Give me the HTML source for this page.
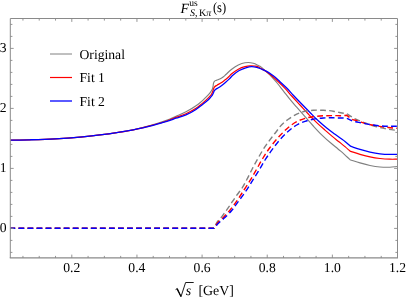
<!DOCTYPE html>
<html><head><meta charset="utf-8"><title>F S,Kpi(s)</title>
<style>
html,body{margin:0;padding:0;background:#fff;}
body{width:407px;height:300px;overflow:hidden;font-family:"Liberation Serif",serif;}
svg{display:block;will-change:transform;}
text{font-family:"Liberation Serif",serif;fill:#000;text-rendering:geometricPrecision;}
.it{font-style:italic;}
</style></head><body>
<svg width="407" height="300" viewBox="0 0 407 300">
<rect width="407" height="300" fill="#fff"/>
<defs><clipPath id="c"><rect x="10.3" y="18.5" width="387.2" height="239.5"/></clipPath></defs>

<g clip-path="url(#c)" fill="none" stroke-linejoin="round">
<path d="M10.30,140.20 C16.87,140.07 23.43,139.98 30.00,139.80 C38.34,139.57 46.67,139.35 55.00,138.90 C63.34,138.45 71.68,137.87 80.00,137.10 C86.68,136.48 93.35,135.73 100.00,134.90 C105.58,134.20 111.15,133.45 116.70,132.60 C122.25,131.75 127.82,130.96 133.30,129.80 C138.92,128.61 144.48,127.09 150.00,125.50 C156.73,123.56 163.51,121.64 170.00,119.00 C172.02,118.18 174.01,117.28 176.00,116.40 C179.35,114.91 182.76,113.52 186.00,111.80 C189.44,109.97 192.81,107.95 196.00,105.70 C197.36,104.74 198.71,103.75 200.00,102.70 C201.03,101.87 202.02,100.99 203.00,100.10 C204.03,99.16 205.03,98.19 206.00,97.20 C207.39,95.79 208.81,94.38 210.00,92.80 C210.84,91.69 211.77,90.57 212.30,89.30 C212.72,88.30 212.89,87.18 213.10,86.10 C213.28,85.18 213.22,84.19 213.50,83.30 C213.71,82.61 213.93,81.80 214.40,81.30 C214.90,80.77 215.79,80.62 216.50,80.30 C217.59,79.80 218.73,79.43 219.80,78.90 C220.94,78.34 222.08,77.74 223.10,77.00 C224.11,76.27 224.97,75.34 225.90,74.50 C227.85,72.75 229.63,70.79 231.70,69.20 C233.76,67.62 235.95,66.09 238.30,65.00 C240.41,64.02 242.69,63.18 245.00,62.80 C246.08,62.62 247.20,62.49 248.30,62.50 C249.98,62.51 251.69,62.84 253.30,63.30 C254.92,63.77 256.46,64.57 258.00,65.30 C258.67,65.62 259.36,65.93 260.00,66.30 C261.88,67.38 263.36,69.07 265.00,70.50 C266.69,71.97 268.40,73.43 270.00,75.00 C272.39,77.35 274.54,79.94 276.70,82.50 C278.98,85.20 281.11,88.02 283.30,90.80 C285.55,93.66 287.70,96.59 290.00,99.40 C292.17,102.05 294.46,104.61 296.70,107.20 C299.45,110.38 302.22,113.55 305.00,116.70 C307.75,119.81 310.48,122.95 313.30,126.00 C316.05,128.98 318.80,131.97 321.70,134.80 C324.91,137.93 328.26,140.92 331.70,143.80 C333.12,144.99 334.56,146.14 336.00,147.30 C337.56,148.57 339.17,149.79 340.70,151.10 C342.27,152.45 343.78,153.89 345.30,155.30 C346.88,156.76 348.43,158.23 350.00,159.70 C353.33,160.77 356.64,161.93 360.00,162.90 C363.31,163.86 366.63,164.81 370.00,165.50 C373.30,166.17 376.65,166.72 380.00,167.00 C383.32,167.28 386.67,167.35 390.00,167.20 C392.50,167.09 395.00,166.73 397.50,166.50" stroke="#808080" stroke-width="1.15"/>
<path d="M10.30,140.20 C16.87,140.07 23.43,139.98 30.00,139.80 C38.34,139.57 46.67,139.35 55.00,138.90 C63.34,138.45 71.68,137.87 80.00,137.10 C86.68,136.48 93.35,135.73 100.00,134.90 C105.58,134.20 111.15,133.45 116.70,132.60 C122.25,131.75 127.80,130.92 133.30,129.80 C138.91,128.66 144.47,127.29 150.00,125.80 C156.73,123.99 163.45,122.09 170.00,119.70 C172.01,118.97 174.00,118.16 176.00,117.40 C179.32,116.14 182.77,115.15 186.00,113.70 C189.45,112.15 192.88,110.43 196.00,108.30 C197.37,107.36 198.70,106.34 200.00,105.30 C202.07,103.66 204.06,101.90 206.00,100.10 C207.36,98.83 208.83,97.64 210.00,96.20 C210.57,95.50 211.15,94.78 211.60,94.00 C212.09,93.15 212.47,92.22 212.80,91.30 C213.08,90.52 213.27,89.70 213.50,88.90 C213.80,88.30 214.01,87.62 214.40,87.10 C215.03,86.27 216.10,85.79 217.00,85.20 C218.18,84.42 219.51,83.87 220.70,83.10 C222.02,82.25 223.26,81.26 224.50,80.30 C225.59,79.46 226.67,78.61 227.70,77.70 C229.10,76.47 230.29,75.00 231.70,73.80 C233.73,72.07 235.93,70.42 238.30,69.20 C240.40,68.12 242.70,67.29 245.00,66.70 C246.63,66.28 248.32,65.91 250.00,65.80 C251.65,65.69 253.36,65.74 255.00,66.00 C256.01,66.16 257.08,66.28 258.00,66.70 C258.71,67.02 259.33,67.58 260.00,68.00 C261.62,69.01 263.39,69.78 265.00,70.80 C267.35,72.29 269.54,74.04 271.70,75.80 C273.98,77.66 276.15,79.68 278.30,81.70 C280.59,83.84 282.85,86.02 285.00,88.30 C287.33,90.77 289.43,93.46 291.70,96.00 C294.42,99.04 297.23,102.00 300.00,105.00 C302.77,108.00 305.49,111.04 308.30,114.00 C311.06,116.91 313.81,119.83 316.70,122.60 C319.39,125.18 322.20,127.63 325.00,130.10 C328.62,133.29 332.22,136.51 336.00,139.50 C337.55,140.72 339.16,141.87 340.70,143.10 C342.26,144.34 343.79,145.60 345.30,146.90 C346.89,148.27 348.43,149.70 350.00,151.10 C353.33,152.17 356.64,153.33 360.00,154.30 C363.31,155.26 366.63,156.20 370.00,156.90 C373.30,157.59 376.65,158.12 380.00,158.50 C383.32,158.88 386.66,159.10 390.00,159.20 C392.50,159.27 395.00,159.20 397.50,159.20" stroke="#ff0000" stroke-width="1.2"/>
<path d="M10.30,140.20 C16.87,140.07 23.43,139.98 30.00,139.80 C38.34,139.57 46.67,139.35 55.00,138.90 C63.34,138.45 71.68,137.87 80.00,137.10 C86.68,136.48 93.35,135.73 100.00,134.90 C105.58,134.20 111.15,133.45 116.70,132.60 C122.25,131.75 127.79,130.86 133.30,129.80 C138.89,128.73 144.49,127.64 150.00,126.20 C153.36,125.32 156.67,124.28 160.00,123.30 C163.34,122.32 166.70,121.39 170.00,120.30 C172.01,119.63 174.00,118.89 176.00,118.20 C179.33,117.05 182.77,116.18 186.00,114.80 C189.46,113.32 192.89,111.61 196.00,109.50 C197.38,108.57 198.68,107.51 200.00,106.50 C202.02,104.96 204.09,103.47 206.00,101.80 C207.38,100.59 208.77,99.36 210.00,98.00 C210.81,97.11 211.67,96.22 212.30,95.20 C212.78,94.42 213.10,93.53 213.50,92.70 C213.73,92.07 213.84,91.35 214.20,90.80 C214.55,90.26 215.10,89.82 215.60,89.40 C216.43,88.71 217.48,88.29 218.40,87.70 C219.53,86.97 220.63,86.20 221.70,85.40 C222.97,84.45 224.19,83.43 225.40,82.40 C226.66,81.33 227.91,80.24 229.10,79.10 C230.27,77.98 231.31,76.70 232.50,75.60 C234.56,73.70 236.77,71.85 239.20,70.50 C241.26,69.35 243.53,68.45 245.80,67.80 C247.71,67.25 249.73,66.72 251.70,66.70 C253.36,66.69 255.07,67.00 256.70,67.40 C258.41,67.82 260.05,68.56 261.70,69.20 C263.38,69.86 265.10,70.47 266.70,71.30 C269.05,72.52 271.20,74.18 273.30,75.80 C275.65,77.61 277.80,79.70 280.00,81.70 C282.27,83.76 284.55,85.82 286.70,88.00 C288.99,90.31 291.08,92.82 293.30,95.20 C296.07,98.16 298.88,101.08 301.70,104.00 C304.45,106.85 307.22,109.68 310.00,112.50 C312.75,115.28 315.43,118.15 318.30,120.80 C321.01,123.30 323.82,125.70 326.70,128.00 C329.40,130.15 332.22,132.15 335.00,134.20 C336.73,135.47 338.46,136.74 340.20,138.00 C341.90,139.24 343.65,140.40 345.30,141.70 C347.10,143.12 348.77,144.70 350.50,146.20 C353.67,147.27 356.80,148.43 360.00,149.40 C363.30,150.40 366.63,151.36 370.00,152.10 C373.30,152.82 376.65,153.42 380.00,153.80 C383.31,154.18 386.66,154.34 390.00,154.40 C392.50,154.45 395.00,154.33 397.50,154.30" stroke="#0000ff" stroke-width="1.3"/>
<path d="M9.40,228.30 L214.00,228.30 C214.40,227.53 214.84,226.78 215.20,226.00 C215.53,225.28 215.76,224.51 216.10,223.80 C217.54,220.75 220.35,218.51 222.40,215.80 C224.66,212.81 226.86,209.77 229.00,206.70 C231.30,203.41 233.40,199.99 235.70,196.70 C237.87,193.59 240.38,190.71 242.40,187.50 C243.92,185.08 245.24,182.52 246.60,180.00 C248.51,176.45 250.21,172.77 252.08,169.20 C254.15,165.27 256.24,161.35 258.45,157.50 C260.55,153.85 262.66,150.20 265.00,146.70 C267.11,143.55 269.42,140.53 271.70,137.50 C273.60,134.98 275.61,132.53 277.50,130.00 C278.34,128.87 279.11,127.68 280.00,126.60 C282.35,123.76 285.31,121.36 288.30,119.20 C290.93,117.30 293.75,115.56 296.70,114.20 C299.35,112.98 302.16,111.95 305.00,111.30 C307.70,110.68 310.52,110.48 313.30,110.30 C316.62,110.08 319.97,110.15 323.30,110.30 C326.64,110.45 330.01,110.64 333.30,111.20 C335.15,111.52 336.96,112.04 338.80,112.40 C340.49,112.73 342.19,113.08 343.90,113.30 C344.83,113.42 345.77,113.50 346.70,113.60 C348.27,114.60 349.85,115.57 351.40,116.60 C352.34,117.22 353.22,117.94 354.20,118.50 C355.79,119.41 357.60,119.89 359.30,120.60 C361.20,121.39 363.08,122.26 365.00,123.00 C368.81,124.47 372.75,125.66 376.70,126.70 C380.52,127.71 384.41,128.52 388.30,129.20 C391.35,129.73 394.43,130.07 397.50,130.50" stroke="#808080" stroke-width="1.4" stroke-dasharray="5.8 3.25"/>
<path d="M9.40,228.30 L214.00,228.30 C214.47,227.60 214.95,226.91 215.40,226.20 C215.82,225.54 216.17,224.85 216.60,224.20 C218.53,221.28 221.60,219.26 224.00,216.70 C226.29,214.26 228.59,211.80 230.70,209.20 C233.09,206.26 235.24,203.12 237.40,200.00 C239.68,196.72 241.82,193.35 244.00,190.00 C246.22,186.58 248.48,183.18 250.59,179.70 C252.53,176.51 254.34,173.24 256.20,170.00 C258.58,165.84 260.77,161.57 263.30,157.50 C265.42,154.10 267.61,150.72 270.00,147.50 C272.35,144.32 274.86,141.24 277.50,138.30 C278.32,137.39 279.16,136.49 280.00,135.60 C282.66,132.80 285.31,129.93 288.30,127.50 C290.93,125.36 293.71,123.29 296.70,121.70 C299.32,120.30 302.15,119.14 305.00,118.30 C307.69,117.51 310.52,117.11 313.30,116.70 C316.61,116.22 319.96,115.98 323.30,115.80 C326.63,115.62 329.97,115.61 333.30,115.60 C336.07,115.59 338.84,115.82 341.60,115.70 C343.30,115.63 345.00,115.43 346.70,115.30 C347.50,115.90 348.29,116.51 349.10,117.10 C350.16,117.88 351.15,118.81 352.30,119.40 C353.87,120.20 355.80,120.24 357.50,120.80 C358.75,121.21 359.95,121.77 361.20,122.20 C362.13,122.52 363.06,122.82 364.00,123.10 C368.14,124.35 372.44,125.04 376.70,125.80 C380.55,126.48 384.42,127.06 388.30,127.50 C391.36,127.85 394.43,128.03 397.50,128.30" stroke="#ff0000" stroke-width="1.4" stroke-dasharray="5.8 3.25"/>
<path d="M9.40,228.30 L214.00,228.30 C214.57,227.67 215.15,227.05 215.70,226.40 C216.28,225.71 216.81,224.98 217.40,224.30 C219.60,221.75 222.47,219.84 224.90,217.50 C227.16,215.33 229.46,213.17 231.50,210.80 C233.96,207.96 235.97,204.74 238.20,201.70 C240.44,198.64 242.75,195.62 244.90,192.50 C247.77,188.33 250.38,183.98 253.09,179.70 C254.98,176.74 256.89,173.80 258.72,170.80 C260.88,167.24 262.77,163.51 265.00,160.00 C267.35,156.30 269.90,152.72 272.50,149.20 C274.91,145.93 277.31,142.63 280.00,139.60 C282.59,136.68 285.34,133.85 288.30,131.30 C290.95,129.02 293.69,126.74 296.70,125.00 C299.31,123.50 302.15,122.28 305.00,121.30 C307.69,120.38 310.50,119.73 313.30,119.20 C316.59,118.57 319.96,118.23 323.30,118.00 C326.62,117.77 329.97,117.75 333.30,117.80 C335.13,117.83 336.97,117.97 338.80,118.00 C340.50,118.03 342.20,117.92 343.90,118.00 C344.83,118.04 345.77,118.13 346.70,118.20 C348.57,119.07 350.36,120.14 352.30,120.80 C353.38,121.16 354.49,121.43 355.60,121.70 C357.28,122.11 359.00,122.35 360.70,122.70 C362.14,122.99 363.56,123.32 365.00,123.60 C368.88,124.36 372.78,125.07 376.70,125.50 C380.55,125.93 384.43,126.10 388.30,126.20 C391.36,126.28 394.43,126.20 397.50,126.20" stroke="#0000ff" stroke-width="1.4" stroke-dasharray="5.8 3.25"/>
</g>
<g stroke="#8a8a8a" stroke-width="1" fill="none">
<path d="M10.3,258.0 V18.5 H397.5 V258.0" stroke-width="1" stroke-linejoin="miter"/>
<path d="M9.8,257.9 H398.0" stroke-width="1.25"/>
<path d="M22.95,258.0 v-2.1 M22.95,18.5 v2.1 M39.23,258.0 v-2.1 M39.23,18.5 v2.1 M55.52,258.0 v-2.1 M55.52,18.5 v2.1 M71.80,258.0 v-3.4 M71.80,18.5 v3.4 M88.08,258.0 v-2.1 M88.08,18.5 v2.1 M104.37,258.0 v-2.1 M104.37,18.5 v2.1 M120.66,258.0 v-2.1 M120.66,18.5 v2.1 M136.94,258.0 v-3.4 M136.94,18.5 v3.4 M153.22,258.0 v-2.1 M153.22,18.5 v2.1 M169.51,258.0 v-2.1 M169.51,18.5 v2.1 M185.80,258.0 v-2.1 M185.80,18.5 v2.1 M202.08,258.0 v-3.4 M202.08,18.5 v3.4 M218.37,258.0 v-2.1 M218.37,18.5 v2.1 M234.65,258.0 v-2.1 M234.65,18.5 v2.1 M250.93,258.0 v-2.1 M250.93,18.5 v2.1 M267.22,258.0 v-3.4 M267.22,18.5 v3.4 M283.51,258.0 v-2.1 M283.51,18.5 v2.1 M299.79,258.0 v-2.1 M299.79,18.5 v2.1 M316.08,258.0 v-2.1 M316.08,18.5 v2.1 M332.36,258.0 v-3.4 M332.36,18.5 v3.4 M348.65,258.0 v-2.1 M348.65,18.5 v2.1 M364.93,258.0 v-2.1 M364.93,18.5 v2.1 M381.22,258.0 v-2.1 M381.22,18.5 v2.1 M10.3,252.40 h2.1 M397.5,252.40 h-2.1 M10.3,240.40 h2.1 M397.5,240.40 h-2.1 M10.3,228.40 h3.4 M397.5,228.40 h-3.4 M10.3,216.40 h2.1 M397.5,216.40 h-2.1 M10.3,204.40 h2.1 M397.5,204.40 h-2.1 M10.3,192.40 h2.1 M397.5,192.40 h-2.1 M10.3,180.40 h2.1 M397.5,180.40 h-2.1 M10.3,168.40 h3.4 M397.5,168.40 h-3.4 M10.3,156.40 h2.1 M397.5,156.40 h-2.1 M10.3,144.40 h2.1 M397.5,144.40 h-2.1 M10.3,132.40 h2.1 M397.5,132.40 h-2.1 M10.3,120.40 h2.1 M397.5,120.40 h-2.1 M10.3,108.40 h3.4 M397.5,108.40 h-3.4 M10.3,96.40 h2.1 M397.5,96.40 h-2.1 M10.3,84.40 h2.1 M397.5,84.40 h-2.1 M10.3,72.40 h2.1 M397.5,72.40 h-2.1 M10.3,60.40 h2.1 M397.5,60.40 h-2.1 M10.3,48.40 h3.4 M397.5,48.40 h-3.4 M10.3,36.40 h2.1 M397.5,36.40 h-2.1 M10.3,24.40 h2.1 M397.5,24.40 h-2.1" stroke-width="0.9"/>
</g>
<text x="71.8" y="271.8" font-size="13.65" text-anchor="middle">0.2</text>
<text x="136.9" y="271.8" font-size="13.65" text-anchor="middle">0.4</text>
<text x="202.1" y="271.8" font-size="13.65" text-anchor="middle">0.6</text>
<text x="267.2" y="271.8" font-size="13.65" text-anchor="middle">0.8</text>
<text x="332.4" y="271.8" font-size="13.65" text-anchor="middle">1.0</text>
<text x="397.5" y="271.8" font-size="13.65" text-anchor="middle">1.2</text>
<text x="6.6" y="231.8" font-size="13.65" text-anchor="end">0</text>
<text x="6.6" y="171.8" font-size="13.65" text-anchor="end">1</text>
<text x="6.6" y="111.8" font-size="13.65" text-anchor="end">2</text>
<text x="6.6" y="51.8" font-size="13.65" text-anchor="end">3</text>
<line x1="50" x2="72" y1="54.0" y2="54.0" stroke="#808080" stroke-width="1.0"/>
<text x="79.5" y="58.9" font-size="13.65">Original</text>
<line x1="50" x2="72" y1="77.5" y2="77.5" stroke="#ff0000" stroke-width="1.2"/>
<text x="79.5" y="82.4" font-size="13.65">Fit 1</text>
<line x1="50" x2="72" y1="101.0" y2="101.0" stroke="#0000ff" stroke-width="1.3"/>
<text x="79.5" y="105.9" font-size="13.65">Fit 2</text>
<text x="180.6" y="12.5" font-size="14" class="it">F</text>
<text x="189.3" y="6.3" font-size="9.6">us</text>
<text x="190.0" y="15.8" font-size="10"><tspan class="it">S</tspan>,<tspan dx="1.4">K</tspan><tspan class="it">π</tspan></text>
<text transform="translate(212.9,12.4) scale(0.89,1)" font-size="14.2">(s)</text>
<path d="M175.6,289.6 L177.3,288.5 L181.0,296.6 L185.6,282.5 L193.7,282.5" fill="none" stroke="#000" stroke-width="0.9" stroke-linejoin="miter"/>
<path d="M177.0,288.7 L180.9,296.4" fill="none" stroke="#000" stroke-width="1.2"/>
<text x="185.8" y="295.3" font-size="14" class="it">s</text>
<text x="198.4" y="295.2" font-size="13.9">[GeV]</text>
</svg>
</body></html>
